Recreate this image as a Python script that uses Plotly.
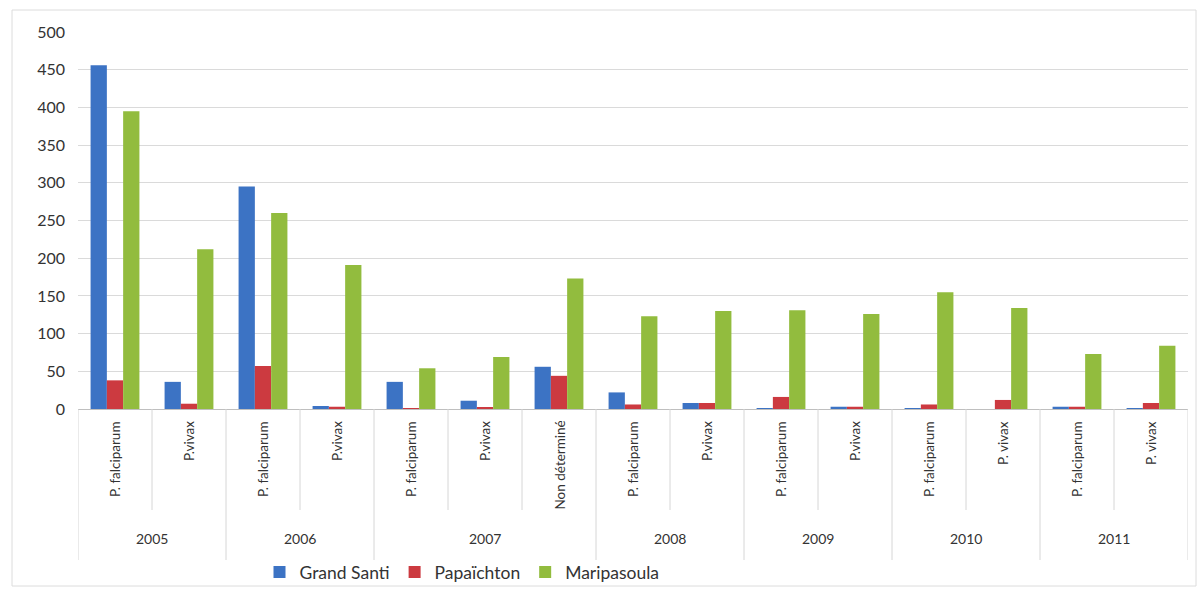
import plotly.graph_objects as go

# Categories: species within each year
years = ["2005", "2005", "2006", "2006", "2007", "2007", "2007", "2008", "2008",
         "2009", "2009", "2010", "2010", "2011", "2011"]
species = ["P. falciparum", "P.vivax", "P. falciparum", "P.vivax", "P. falciparum", "P.vivax",
           "Non déterminé", "P. falciparum", "P.vivax", "P. falciparum", "P.vivax",
           "P. falciparum", "P. vivax", "P. falciparum", "P. vivax"]

# Case counts per commune
grand_santi = [456, 36, 295, 4, 36, 11, 56, 22, 8, 1, 3, 0.5, 0, 3, 0.5]
papaichton = [38, 7, 57, 3, 1, 1.5, 44, 6, 8, 16, 3, 6, 12, 3, 8]
maripasoula = [395, 212, 260, 191, 54, 69, 173, 123, 130, 131, 126, 155, 134, 73, 84]

y_ticks = [0, 50, 100, 150, 200, 250, 300, 350, 400, 450, 500]

series = [
    ("Grand Santi", grand_santi, "#3c73c4"),
    ("Papaïchton", papaichton, "#cc3a40"),
    ("Maripasoula", maripasoula, "#92bc3e"),
]

FONT = "Lato, 'Open Sans', sans-serif"
TEXT = "#333333"

# Pixel geometry of the plotting area (figure is 1198 x 589)
W, H = 1198, 589
L, R, T, B = 78, 10, 32, 180
pw, ph = W - L - R, H - T - B


def py(pix):
    """Convert a figure pixel row into paper y."""
    return (H - B - pix) / ph


def px(pix):
    """Convert a figure pixel column into paper x."""
    return (pix - L) / pw


xs = list(range(len(species)))

fig = go.Figure()
for name, vals, col in series:
    fig.add_trace(go.Bar(x=xs, y=vals, name=name, marker=dict(color=col, line=dict(width=0))))

annotations = []
shapes = []

# Inner category labels (rotated) and separators
for i, sp in enumerate(species):
    annotations.append(dict(x=i, y=py(419), xref="x", yref="paper", text=sp, showarrow=False,
                            textangle=-90, xanchor="center", yanchor="top",
                            font=dict(family=FONT, size=13.5, color=TEXT)))

for b in range(len(species) + 1):
    x = b - 0.5
    is_year_edge = b == 0 or b == len(species) or years[b] != years[b - 1]
    shapes.append(dict(type="line", xref="x", yref="paper", x0=x, x1=x,
                       y0=0, y1=py(560) if is_year_edge else py(510),
                       line=dict(color="#d6d6d6", width=1)))

# Outer year labels centred on their categories
seen = []
for y in years:
    if y not in seen:
        seen.append(y)
for y in seen:
    idx = [i for i, v in enumerate(years) if v == y]
    annotations.append(dict(x=sum(idx) / len(idx), y=py(538), xref="x", yref="paper", text=y,
                            showarrow=False, xanchor="center", yanchor="middle",
                            font=dict(family=FONT, size=14, color=TEXT)))

# Light chart frame
shapes.append(dict(type="rect", xref="paper", yref="paper", x0=px(12), x1=px(1196),
                   y0=py(586), y1=py(10), line=dict(color="#dcdcdc", width=1), layer="below"))

fig.update_layout(
    width=W, height=H,
    margin=dict(l=L, r=R, t=T, b=B, autoexpand=False),
    paper_bgcolor="white", plot_bgcolor="white",
    barmode="group", bargap=0.34, bargroupgap=0,
    showlegend=True,
    legend=dict(orientation="h", x=px(462), y=py(572), xanchor="center", yanchor="middle",
                font=dict(family=FONT, size=17.5, color=TEXT), itemwidth=30,
                bgcolor="rgba(0,0,0,0)"),
    xaxis=dict(range=[-0.5, len(species) - 0.5], showticklabels=False, showgrid=False,
               zeroline=False, showline=True, linecolor="#bfbfbf", linewidth=1),
    yaxis=dict(range=[0, 500], tickvals=y_ticks, showgrid=True, gridcolor="#dadada",
               gridwidth=1, zeroline=False, showline=False, ticks="",
               ticklabelstandoff=12,
               tickfont=dict(family=FONT, size=16, color=TEXT)),
    annotations=annotations,
    shapes=shapes,
    font=dict(family=FONT),
)

fig.write_html("out.html")
